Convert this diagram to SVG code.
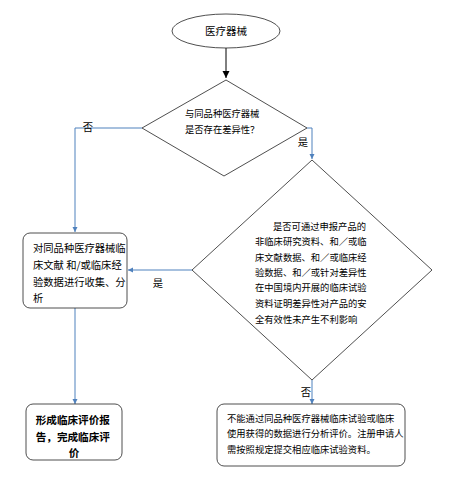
<svg xmlns="http://www.w3.org/2000/svg" width="450" height="477" viewBox="0 0 450 477">
<style>
text{font-family:"Noto Sans CJK SC","Noto Sans",sans-serif;fill:#000}
.s{fill:#fff;stroke:#222;stroke-width:0.8}
.c{fill:none;stroke:#4f81bd;stroke-width:1}
.k{fill:none;stroke:#000;stroke-width:1}
.t9{font-size:9.3px}
.t10{font-size:10.3px}
.b{font-size:10.6px;font-weight:bold}
</style>
<defs>
<marker id="ab" markerWidth="6" markerHeight="6" refX="5" refY="3" orient="auto" markerUnits="userSpaceOnUse"><path d="M0,0.5 L5,3 L0,5.5 Z" fill="#4f81bd"/></marker>
<marker id="ak" markerWidth="8" markerHeight="8" refX="7" refY="4" orient="auto" markerUnits="userSpaceOnUse"><path d="M0,0.5 L7,4 L0,7.5 Z" fill="#000"/></marker>
</defs>
<rect width="450" height="477" fill="#fff"/>
<g id="connectors">
<line class="k" x1="226" y1="48" x2="226" y2="78" marker-end="url(#ak)"/>
<polyline class="c" points="142,128 75,128 75,232" marker-end="url(#ab)"/>
<polyline class="c" points="307,128 312,128 312,159" marker-end="url(#ab)"/>
<line class="c" x1="192" y1="270" x2="128" y2="270" marker-end="url(#ab)"/>
<line class="c" x1="75" y1="308" x2="75" y2="404" marker-end="url(#ab)"/>
<line class="c" x1="312" y1="380" x2="312" y2="404" marker-end="url(#ab)"/>
<text x="88" y="131" class="t10" text-anchor="middle">否</text>
<text x="303" y="146" class="t10" text-anchor="middle">是</text>
<text x="158" y="287" class="t10" text-anchor="middle">是</text>
<text x="306" y="396" class="t10" text-anchor="middle">否</text>
</g>
<g id="start">
<ellipse class="s" cx="226" cy="31" rx="54" ry="17"/>
<text x="226" y="35" class="t10" text-anchor="middle" style="font-size:10.5px">医疗器械</text>
</g>
<g id="decision1">
<polygon class="s" points="226,80 307,128 224,176 142,128"/>
<text x="185" y="117" class="t9">与同品种医疗器械</text>
<text x="185" y="133" class="t9">是否存在差异性？</text>
</g>
<g id="decision2">
<polygon class="s" points="312,160 432,270 312,380 192,270"/>
<text class="t9">
<tspan x="273" y="230">是否可通过申报产品的</tspan>
<tspan x="255" y="245">非临床研究资料、和／或临</tspan>
<tspan x="255" y="261">床文献数据、和／或临床经</tspan>
<tspan x="255" y="276">验数据、和／或针对差异性</tspan>
<tspan x="255" y="291">在中国境内开展的临床试验</tspan>
<tspan x="255" y="307">资料证明差异性对产品的安</tspan>
<tspan x="255" y="323">全有效性未产生不利影响</tspan>
</text>
</g>
<g id="collect">
<rect class="s" x="23" y="233" width="104" height="75" rx="7"/>
<text class="t10">
<tspan x="33" y="252">对同品种医疗器械临</tspan>
<tspan x="33" y="269">床文献 和/或临床经</tspan>
<tspan x="33" y="286">验数据进行收集、分</tspan>
<tspan x="33" y="302">析</tspan>
</text>
</g>
<g id="report">
<rect class="s" x="26" y="404" width="96" height="56" rx="7"/>
<text class="b" text-anchor="middle">
<tspan x="74" y="424">形成临床评价报</tspan>
<tspan x="74" y="441">告，完成临床评</tspan>
<tspan x="74" y="457">价</tspan>
</text>
</g>
<g id="trial">
<rect class="s" x="217" y="404" width="188" height="62" rx="7"/>
<text class="t9">
<tspan x="227" y="422">不能通过同品种医疗器械临床试验或临床</tspan>
<tspan x="227" y="437">使用获得的数据进行分析评价。注册申请人</tspan>
<tspan x="227" y="453">需按照规定提交相应临床试验资料。</tspan>
</text>
</g>
</svg>
